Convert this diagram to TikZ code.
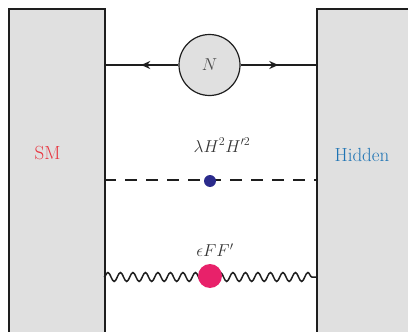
\documentclass[tikz,border=0pt]{standalone}
\usetikzlibrary{decorations.pathmorphing,decorations.markings,arrows.meta}
\definecolor{boxgray}{HTML}{E0E0E0}
\definecolor{smred}{HTML}{E8343F}
\definecolor{hidblue}{HTML}{1F74B4}
\definecolor{dotnavy}{HTML}{2B2B8C}
\definecolor{dotpink}{HTML}{E8216A}
\definecolor{ink}{HTML}{1E1E1E}
\tikzset{
  sector/.style={draw=ink, line width=1.5pt, fill=boxgray, rectangle, inner sep=0pt, anchor=north west},
  mediator/.style={circle, draw=ink, line width=1.2pt, fill=boxgray, minimum size=61pt, inner sep=0pt},
  vertexdot/.style={circle, inner sep=0pt, minimum size=#1},
  portal/.style={line width=1.8pt, draw=ink},
  midarrow/.style={postaction={decorate}, decoration={markings, mark=at position 0.5 with {\arrow{Stealth[length=9pt,width=8pt]}}}},
  wavy/.style={decorate, decoration={snake, segment length=12.5pt, amplitude=4.5pt}},
  lbl/.style={font=\fontsize{18}{21}\selectfont, text=ink!90},
}
\begin{document}
\begin{tikzpicture}[x=1pt,y=-1pt]
\useasboundingbox (0,0) rectangle (408,332);
\clip (0,0) rectangle (408,332);
\node[sector, minimum width=96pt, minimum height=340pt] (sm) at (8,8) {};
\node[sector, minimum width=110pt, minimum height=340pt] (hid) at (316,8) {};
\node[lbl, text=smred, font=\fontsize{19}{22}\selectfont] (smlabel) at (47.5,153) {SM};
\node[lbl, text=hidblue, font=\fontsize{19}{22}\selectfont] (hidlabel) at (362,155) {Hidden};
% neutrino portal
\node[mediator, font=\fontsize{16}{18}\selectfont, text=ink!80] (N) at (209.5,65) {$N$};
\coordinate (smN) at (104,65);
\coordinate (hidN) at (316,65);
\draw[portal, midarrow] (N.west) -- (smN);
\draw[portal, midarrow] (N.east) -- (hidN);
% Higgs portal
\coordinate (smH) at (104,180);
\coordinate (hidH) at (316,180);
\draw[portal, line width=1.6pt, dash pattern=on 12pt off 9pt] (smH) -- (hidH);
\node[vertexdot=12pt, fill=dotnavy] (hdot) at (210,181) {};
\node[lbl] (hlabel) at (222,145) {$\lambda H^2 H^{\prime 2}$};
% vector portal
\coordinate (smV) at (104,277);
\coordinate (hidV) at (316,277);
\draw[portal, line width=1.5pt, wavy] (smV) -- (hidV);
\node[vertexdot=24pt, fill=dotpink] (vdot) at (210,276) {};
\node[lbl] (vlabel) at (215,250) {$\epsilon F F'$};
\end{tikzpicture}
\end{document}
